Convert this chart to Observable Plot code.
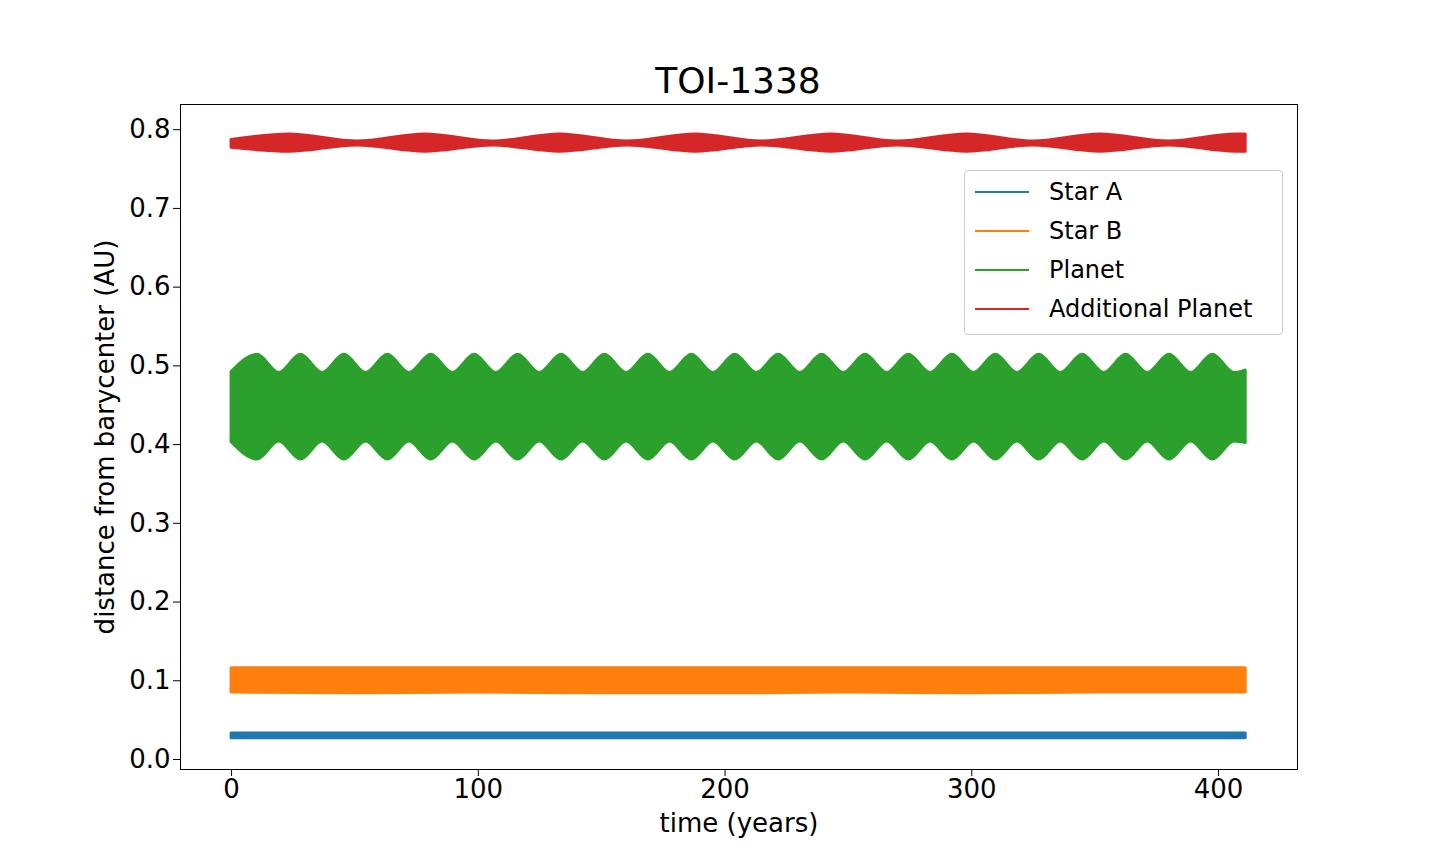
<!DOCTYPE html>
<html><head><meta charset="utf-8">
<script src="https://cdn.jsdelivr.net/npm/d3@7"></script>
<script src="https://cdn.jsdelivr.net/npm/@observablehq/plot@0.6"></script>
<style>
body{margin:0;background:#fff;font-family:"DejaVu Sans",sans-serif;}
#wrap{position:relative;width:1440px;height:864px;}
#title{position:absolute;left:0;width:1476px;top:60px;text-align:center;font-size:36px;color:#000;}
#legend{position:absolute;left:964px;top:170px;width:317px;height:163px;border:1px solid #ccc;border-radius:4px;background:#fff;font-size:24px;}
.row{position:absolute;left:10px;height:30px;display:flex;align-items:center;}
.row span.l{display:inline-block;width:54px;height:2px;margin-right:20px;}
</style></head><body>
<div id="wrap"><div id="chart"></div><div id="title">TOI-1338</div><div id="legend"></div></div>
<script>
const seriesNames = ["Star A","Star B","Planet","Additional Planet"];
const colors = ["#1f77b4","#ff7f0e","#2ca02c","#d62728"];
const xTicks = [0,100,200,300,400];
const yTicks = [0,0.1,0.2,0.3,0.4,0.5,0.6,0.7,0.8];

// Star A envelope
const tA = [0, 100, 200, 300, 411];
const loA = [0.027, 0.027, 0.027, 0.027, 0.027];
const hiA = [0.033, 0.033, 0.033, 0.033, 0.033];
// Star B envelope
const tB = [0, 50, 100, 150, 200, 250, 300, 350, 411];
const loB = [0.085, 0.084, 0.085, 0.084, 0.084, 0.085, 0.084, 0.085, 0.085];
const hiB = [0.116, 0.116, 0.116, 0.116, 0.116, 0.116, 0.116, 0.116, 0.116];
// Planet envelope (alternating trough/peak of the wobble)
const tP = [0,10.5,19.3,28.1,36.9,45.7,54.5,63.3,72.1,80.9,89.7,98.5,107.3,116.1,124.9,133.7,142.5,151.3,160.1,168.9,177.7,186.5,195.3,204.1,212.9,221.7,230.5,239.3,248.1,256.9,265.7,274.5,283.3,292.1,300.9,309.7,318.5,327.3,336.1,344.9,353.7,362.5,371.3,380.1,388.9,397.7,406.5,411];
const hiP = [0.492,0.514,0.491,0.514,0.491,0.514,0.491,0.514,0.491,0.514,0.491,0.514,0.491,0.514,0.491,0.514,0.491,0.514,0.491,0.514,0.491,0.514,0.491,0.514,0.491,0.514,0.491,0.514,0.491,0.514,0.491,0.514,0.491,0.514,0.491,0.514,0.491,0.514,0.491,0.514,0.491,0.514,0.491,0.514,0.491,0.514,0.491,0.494];
const loP = [0.403,0.381,0.404,0.381,0.404,0.381,0.404,0.381,0.404,0.381,0.404,0.381,0.404,0.381,0.404,0.381,0.404,0.381,0.404,0.381,0.404,0.381,0.404,0.381,0.404,0.381,0.404,0.381,0.404,0.381,0.404,0.381,0.404,0.381,0.404,0.381,0.404,0.381,0.404,0.381,0.404,0.381,0.404,0.381,0.404,0.381,0.404,0.402];
// Additional planet envelope (bulge / pinch)
const tD = [0,23.5,51,78.5,106,133,160.6,188,215,243,270,298,325,352,380,407,411];
const hiD = [0.787,0.794,0.785,0.794,0.785,0.794,0.785,0.794,0.785,0.794,0.785,0.794,0.785,0.794,0.785,0.794,0.794];
const loD = [0.777,0.772,0.780,0.772,0.780,0.772,0.780,0.772,0.780,0.772,0.780,0.772,0.780,0.772,0.780,0.772,0.772];

const mk = (t, lo, hi, s) => t.map((v,i)=>({t:v, lo:lo[i], hi:hi[i], s}));
const data = [
  ...mk(tA,loA,hiA,seriesNames[0]),
  ...mk(tB,loB,hiB,seriesNames[1]),
  ...mk(tP,loP,hiP,seriesNames[2]),
  ...mk(tD,loD,hiD,seriesNames[3])
];

const chart = Plot.plot({
  width:1440, height:864,
  marginLeft:180, marginRight:143, marginTop:104, marginBottom:95,
  style:{fontSize:"26px", fontFamily:"DejaVu Sans, sans-serif", color:"#000", background:"#fff"},
  x:{domain:[-20.7,432], ticks:xTicks, tickFormat:d3.format("d"), tickSize:7, tickPadding:6, label:null},
  y:{domain:[-0.0127,0.832], ticks:yTicks, tickFormat:d3.format(".1f"), tickSize:7, tickPadding:6, label:null},
  color:{domain:seriesNames, range:colors},
  marks:[
    Plot.areaY(data,{x:"t", y1:"lo", y2:"hi", z:"s", fill:"s", curve:"monotone-x", stroke:"s", strokeWidth:3}),
    Plot.frame({stroke:"#000", strokeWidth:1}),
    Plot.axisX({ticks:xTicks, tickFormat:d3.format("d"), tickSize:7, fontSize:26, label:"time (years)", labelAnchor:"center", labelArrow:"none", labelOffset:62}),
    Plot.axisY({ticks:yTicks, tickFormat:d3.format(".1f"), tickSize:7, fontSize:26, label:"distance from barycenter (AU)", labelAnchor:"center", labelArrow:"none", labelOffset:85})
  ]
});
document.getElementById("chart").appendChild(chart);

const leg = document.getElementById("legend");
seriesNames.forEach((n,i)=>{
  const r = document.createElement("div");
  r.className="row"; r.style.top = (6+i*39)+"px";
  r.innerHTML = `<span class="l" style="background:${colors[i]}"></span>${n}`;
  leg.appendChild(r);
});
</script></body></html>
